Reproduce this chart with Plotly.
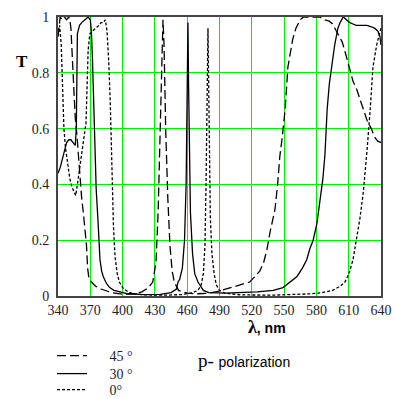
import plotly.graph_objects as go

# ---- data (wavelength nm, transmittance) ----
wl_45 = [340, 341, 342, 344, 346, 348, 350, 351, 352, 353, 354, 355, 356, 357.5, 359, 360.5, 362, 363.5,
         365, 366.5, 367.5, 368.5, 371, 375, 380, 390, 400, 410, 418, 424, 428, 431, 433, 435, 436.5,
         437.5, 438.5, 440, 442, 444, 446, 448, 452, 460, 470, 480, 490, 500, 510, 518, 523, 527.5, 531,
         534, 537, 541.5, 544, 546, 548, 551, 553.5, 556, 558, 561, 565, 568, 575, 583, 588, 592, 595,
         600, 604, 607, 611, 614, 617.5, 620, 623, 627, 631, 634, 637, 640]
T_45 = [0.93, 0.98, 1.0, 0.99, 1.0, 0.99, 1.0, 0.99, 0.96, 0.88, 0.78, 0.70, 0.64, 0.58, 0.50, 0.42,
        0.35, 0.30, 0.24, 0.18, 0.10, 0.07, 0.05, 0.035, 0.025, 0.012, 0.006, 0.008, 0.015, 0.03, 0.05,
        0.12, 0.30, 0.60, 0.85, 0.99, 0.90, 0.60, 0.35, 0.18, 0.09, 0.05, 0.02, 0.01, 0.008, 0.01, 0.018,
        0.03, 0.04, 0.05, 0.07, 0.09, 0.12, 0.165, 0.23, 0.31, 0.40, 0.50, 0.56, 0.67, 0.82, 0.88, 0.92,
        0.96, 0.99, 1.0, 1.0, 1.0, 0.99, 0.985, 0.975, 0.94, 0.91, 0.87, 0.81, 0.77, 0.74, 0.71, 0.67,
        0.63, 0.60, 0.57, 0.555, 0.55]

wl_30 = [340, 342, 344, 346, 348, 350, 352, 354, 356, 357, 357.5, 358, 360, 362, 365, 368, 370,
         371, 372, 373, 374, 375.5, 377, 378, 379, 380.5, 382, 385, 388, 392, 397.5, 405, 420, 435, 445,
         450, 451.5, 453, 455.5, 457.5, 459, 460, 460.7, 461.3, 462, 463, 465, 467, 470, 475, 480, 495,
         525, 540, 549, 556, 562, 567, 571, 574, 577, 580.5, 583, 586, 588, 590, 592, 594, 597, 600, 602,
         605, 608, 611, 614, 617, 622, 627, 631, 634, 637, 639, 640]
T_30 = [0.44, 0.46, 0.49, 0.52, 0.55, 0.56, 0.56, 0.55, 0.54, 0.60, 0.80, 0.94, 0.97, 0.98, 0.99,
        1.0, 0.99, 0.95, 0.85, 0.70, 0.52, 0.38, 0.28, 0.20, 0.13, 0.09, 0.07, 0.045, 0.03, 0.02, 0.015,
        0.008, 0.005, 0.006, 0.012, 0.025, 0.05, 0.06, 0.10, 0.20, 0.40, 0.75, 0.98, 0.75, 0.45, 0.30,
        0.15, 0.08, 0.05, 0.02, 0.012, 0.01, 0.015, 0.02, 0.03, 0.05, 0.07, 0.10, 0.13, 0.17, 0.20, 0.26,
        0.34, 0.42, 0.51, 0.67, 0.76, 0.82, 0.90, 0.96, 0.98, 1.0, 0.99, 0.98, 0.975, 0.97, 0.97, 0.97,
        0.965, 0.96, 0.95, 0.93, 0.90]

wl_0 = [340, 341.5, 343, 344, 345.5, 347, 349, 351, 353, 355, 356.5, 358, 360, 362, 364, 366, 367, 368,
        369.5, 372, 375, 378, 380, 382, 384, 385.5, 387, 388.5, 389.5, 390.5, 391.5, 393, 395, 397, 400,
        405, 410, 420, 440, 455, 465, 470, 473, 475, 476.5, 477.5, 478.5, 479.3, 479.8, 480.5, 481.5,
        483, 485, 487, 490, 495, 510, 540, 560, 575, 585, 595, 602, 606.5, 609, 611, 614, 617, 620.5,
        623.5, 625, 627, 630, 632.5, 636, 639, 640]
T_0 = [0.93, 0.97, 0.90, 0.75, 0.60, 0.53, 0.47, 0.42, 0.39, 0.37, 0.36, 0.40, 0.46, 0.52, 0.56, 0.62,
       0.75, 0.88, 0.94, 0.95, 0.96, 0.97, 0.98, 0.98, 0.99, 0.95, 0.85, 0.70, 0.55, 0.40, 0.25, 0.14,
       0.08, 0.05, 0.03, 0.015, 0.008, 0.004, 0.003, 0.005, 0.012, 0.02, 0.04, 0.08, 0.18, 0.40, 0.80,
       0.96, 0.80, 0.50, 0.28, 0.15, 0.08, 0.04, 0.02, 0.01, 0.004, 0.003, 0.005, 0.008, 0.012, 0.02,
       0.035, 0.05, 0.07, 0.09, 0.13, 0.20, 0.28, 0.37, 0.45, 0.52, 0.67, 0.82, 0.90, 0.95, 0.96]

x_ticks = [340, 370, 400, 430, 460, 490, 520, 550, 580, 610, 640]
y_ticks = [0, 0.2, 0.4, 0.6, 0.8, 1]
y_tick_text = ["0", "0.2", "0.4", "0.6", "0.8", "1"]
series_names = ["45 °", "30 °", "0°"]

serif = "Liberation Serif"
ink = "#1e1e2a"
grid = "rgb(0,238,0)"
gap = "\u00a0\u00a0\u00a0\u00a0\u00a0"

PX0, PY0, PW, PH = 58, 296, 323, 279  # plot-area geometry in pixels


def px(xp):
    return (xp - PX0) / PW


def py(yp):
    return (PY0 - yp) / PH


fig = go.Figure()
fig.add_trace(go.Scatter(x=wl_45, y=T_45, mode="lines", name=gap + series_names[0], legend="legend",
                         line=dict(color="black", width=1.3, dash="9px,4px")))
fig.add_trace(go.Scatter(x=wl_30, y=T_30, mode="lines", name=gap + series_names[1], legend="legend2",
                         line=dict(color="black", width=1.3)))
fig.add_trace(go.Scatter(x=wl_0, y=T_0, mode="lines", name=gap + series_names[2], legend="legend3",
                         line=dict(color="black", width=1.3, dash="3px,2px")))


def leg(ycenter):
    return dict(x=px(52), y=py(ycenter), xanchor="left", yanchor="middle",
                font=dict(family=serif, size=14, color=ink),
                bgcolor="rgba(0,0,0,0)", itemwidth=30)


fig.update_layout(
    width=394, height=399,
    margin=dict(l=58, r=13, t=17, b=103, autoexpand=False),
    paper_bgcolor="white", plot_bgcolor="white",
    showlegend=True,
    legend=leg(356), legend2=leg(374), legend3=leg(390),
    xaxis=dict(range=[340, 640], tickmode="array", tickvals=x_ticks,
               ticktext=[str(v) for v in x_ticks],
               showgrid=True, gridcolor=grid, gridwidth=1,
               showline=True, linecolor="#444444", linewidth=2, mirror=True,
               zeroline=False, ticks="", automargin=False,
               tickfont=dict(family=serif, size=14, color=ink)),
    yaxis=dict(range=[0, 1], tickmode="array", tickvals=y_ticks, ticktext=y_tick_text,
               showgrid=True, gridcolor=grid, gridwidth=1,
               showline=True, linecolor="#444444", linewidth=2, mirror=True,
               zeroline=False, ticks="outside", ticklen=4, tickcolor="white", automargin=False,
               tickfont=dict(family=serif, size=14, color=ink)),
    annotations=[
        dict(text="<b>T</b>", x=px(14), y=py(50), xref="paper", yref="paper", showarrow=False,
             font=dict(family=serif, size=17, color="black")),
        dict(text="<b>λ</b><b><span style='font-family:Liberation Sans;font-size:14px'>, nm</span></b>",
             x=px(267), y=py(339), xref="paper", yref="paper", showarrow=False,
             font=dict(family=serif, size=18, color="black")),
        dict(text="p- <span style='font-family:Liberation Sans;font-size:14px'>polarization</span>",
             x=px(244), y=py(373), xref="paper", yref="paper", showarrow=False,
             font=dict(family=serif, size=19, color="black")),
    ],
)

fig.write_html("out.html", config={"displayModeBar": False},
               post_script="document.documentElement.style.margin='0';"
                           "document.body.style.margin='0';document.body.style.padding='0';")
